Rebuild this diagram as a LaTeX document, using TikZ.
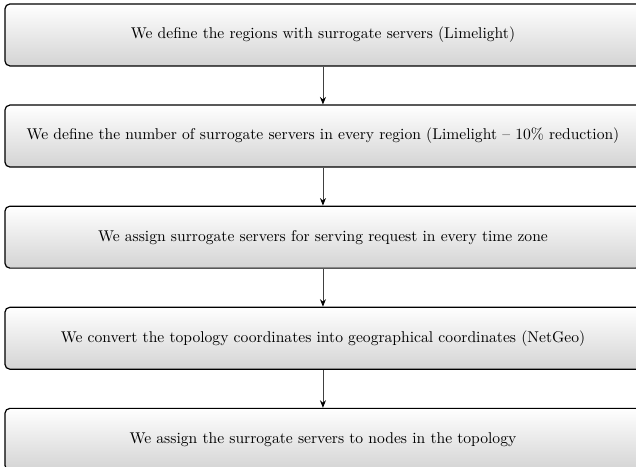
\documentclass[tikz,border=0pt]{standalone}
\usepackage{tikz}
\usetikzlibrary{arrows.meta,positioning}

\begin{document}
\begin{tikzpicture}[
    font=\fontsize{10.4}{12.5}\selectfont,
    stepbox/.style={draw, thick, rounded corners=3.3pt, top color=white, bottom color=black!17,
      minimum width=424pt, minimum height=41.3pt, align=center, inner sep=2pt},
    arr/.style={black!75, semithick, -{Stealth[length=5pt, width=4pt, black]}},
    node distance=25.3pt]
% page frame, the boxes run past its right and bottom edges
\useasboundingbox (0,0) rectangle (424pt,-310.7pt);
\node[stepbox] (regions) at (215.3pt,-23.3pt) {We define the regions with surrogate servers (Limelight)};
\node[stepbox, below=of regions] (number) {We define the number of surrogate servers in every region (Limelight -- 10\% reduction)};
\node[stepbox, below=of number] (zones) {We assign surrogate servers for serving request in every time zone};
\node[stepbox, below=of zones] (coords) {We convert the topology coordinates into geographical coordinates (NetGeo)};
\node[stepbox, below=of coords] (assign) {We assign the surrogate servers to nodes in the topology};
\draw[arr] (regions) -- (number);
\draw[arr] (number) -- (zones);
\draw[arr] (zones) -- (coords);
\draw[arr] (coords) -- (assign);
\end{tikzpicture}
\end{document}
